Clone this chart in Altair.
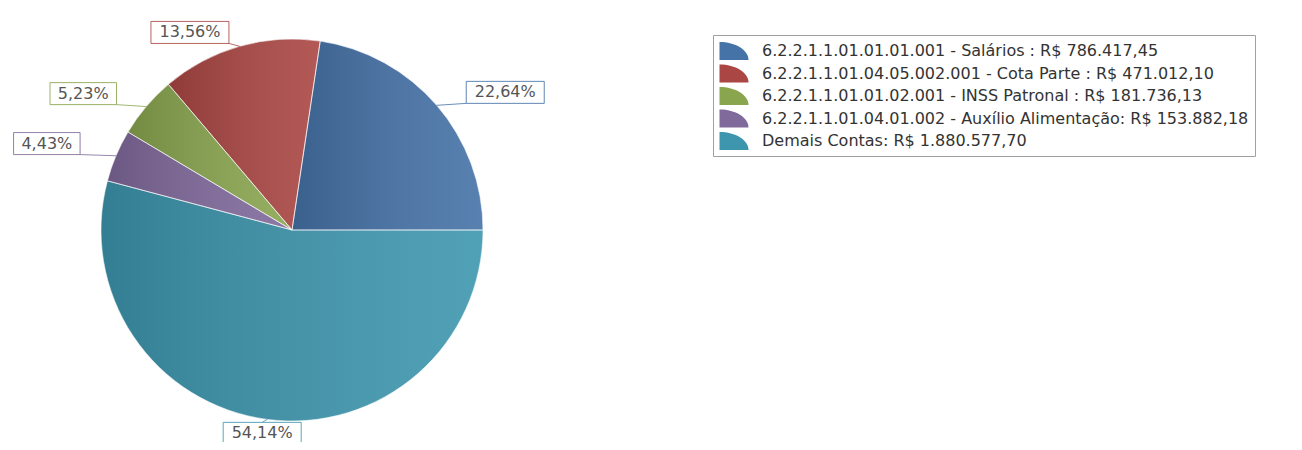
import math
import altair as alt
import pandas as pd

labels = [
    "6.2.2.1.1.01.01.01.001 - Salários : R$ 786.417,45",
    "6.2.2.1.1.01.04.05.002.001 - Cota Parte : R$ 471.012,10",
    "6.2.2.1.1.01.01.02.001 - INSS Patronal : R$ 181.736,13",
    "6.2.2.1.1.01.04.01.002 - Auxílio Alimentação: R$ 153.882,18",
    "Demais Contas: R$ 1.880.577,70",
]
values = [786417.45, 471012.10, 181736.13, 153882.18, 1880577.70]
colors = ["#4572A7", "#AA4643", "#89A54E", "#80699B", "#3D96AE"]

df = pd.DataFrame({"label": labels, "value": values, "idx": list(range(len(labels)))})
total = float(sum(values))

CX, CY = 284, 222      # pie centre inside the plot area
R = 191                # pie radius
RX, RY = 230, 194      # label anchor distances
TAU = 2 * math.pi
FONT = "DejaVu Sans"

base = (
    alt.Chart(df)
    .transform_window(cum="sum(value)", sort=[alt.SortField("idx")], frame=[None, 0])
    .transform_joinaggregate(total="sum(value)")
    .transform_calculate(
        start="datum.cum - datum.value",
        a=f"(datum.cum - datum.value / 2) / datum.total * {TAU}",
        pct="replace(format(datum.value / datum.total * 100, '.2f'), '.', ',') + '%'",
    )
    .transform_calculate(
        ex=f"{CX} + cos(datum.a) * {R}",
        ey=f"{CY} - sin(datum.a) * {R}",
        ax=f"{CX} + cos(datum.a) * {RX}",
        ay=f"{CY} - sin(datum.a) * {RY}",
        w="length(datum.pct) * 11.5 + 9",
    )
    .transform_calculate(
        bx="datum.ax + (abs(cos(datum.a)) < 0.2 ? 0 : (cos(datum.a) > 0 ? datum.w / 2 : -datum.w / 2))",
        by="datum.ay + (sin(datum.a) > 0 ? -11 : 11)",
    )
    .transform_calculate(
        bx1="datum.bx - datum.w / 2",
        bx2="datum.bx + datum.w / 2",
        by1="datum.by - 11",
        by2="datum.by + 11",
    )
)

theta_scale = alt.Scale(domain=[0, total], range=[2.5 * math.pi, 0.5 * math.pi])
color_scale = alt.Scale(domain=labels, range=colors)

ICON = "M-1.45,0.9 L-1.45,-0.9 A2.9,1.8 0 0 1 1.45,0.9 Z"

pie = base.mark_arc(radius=R).encode(
    x=alt.value(CX),
    y=alt.value(CY),
    theta=alt.Theta("start:Q", scale=theta_scale),
    theta2=alt.Theta2("cum:Q"),
    color=alt.Color(
        "label:N",
        scale=color_scale,
        legend=alt.Legend(
            title=None,
            orient="none",
            legendX=705,
            legendY=27,
            symbolType=ICON,
            symbolSize=400,
            symbolStrokeWidth=0,
            symbolOpacity=1,
            symbolOffset=5,
            labelFont=FONT,
            labelFontSize=16,
            labelColor="#333333",
            labelLimit=1000,
            labelOffset=18,
            padding=6,
            rowPadding=3.5,
            strokeColor="#a0a0a0",
            fillColor="#ffffff",
        ),
    ),
)

shade = base.mark_arc(
    radius=R,
    fill=alt.LinearGradient(
        gradient="linear",
        x1=0, y1=0, x2=1, y2=0,
        stops=[
            alt.GradientStop(color="rgba(0,0,0,0.16)", offset=0),
            alt.GradientStop(color="rgba(255,255,255,0.10)", offset=1),
        ],
    ),
    stroke="#ffffff",
    strokeWidth=1,
    strokeOpacity=0.55,
).encode(
    x=alt.value(CX),
    y=alt.value(CY),
    theta=alt.Theta("start:Q", scale=theta_scale),
    theta2=alt.Theta2("cum:Q"),
)

leaders = base.mark_rule(strokeWidth=1, opacity=0.8).encode(
    x=alt.X("ex:Q", scale=None, axis=None),
    y=alt.Y("ey:Q", scale=None, axis=None),
    x2="ax:Q",
    y2="ay:Q",
    stroke=alt.Stroke("label:N", scale=color_scale, legend=None),
)

boxes = base.mark_rect(fill="#ffffff", strokeWidth=1, strokeOpacity=0.85).encode(
    x=alt.X("bx1:Q", scale=None, axis=None),
    x2="bx2:Q",
    y=alt.Y("by1:Q", scale=None, axis=None),
    y2="by2:Q",
    stroke=alt.Stroke("label:N", scale=color_scale, legend=None),
)

texts = base.mark_text(font=FONT, fontSize=16, color="#555555").encode(
    x=alt.X("bx:Q", scale=None, axis=None),
    y=alt.Y("by:Q", scale=None, axis=None),
    text="pct:N",
)

chart = (
    alt.layer(pie, shade, leaders, boxes, texts)
    .properties(
        width=1286,
        height=434,
        padding=0,
        autosize=alt.AutoSizeParams(type="none"),
        background="#ffffff",
    )
    .configure_view(stroke=None)
)

chart.save("out.html", embed_options={"renderer": "svg", "actions": False})
